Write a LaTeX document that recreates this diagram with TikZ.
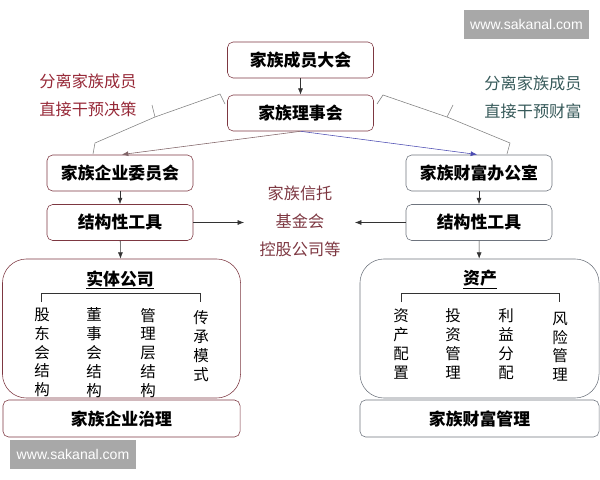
\documentclass[tikz,border=0pt]{standalone}
\usepackage{fontspec}
\usetikzlibrary{arrows.meta}
\newfontfamily\cjk{Noto Sans CJK SC}
\newfontfamily\lat{Liberation Sans}
\definecolor{rim}{RGB}{125,55,65}
\definecolor{grayrim}{RGB}{110,116,126}
\definecolor{redtxt}{RGB}{150,40,55}
\definecolor{tealtxt}{RGB}{55,90,90}
\definecolor{markgray}{RGB}{168,168,168}
\begin{document}
\begin{tikzpicture}[x=0.025cm,y=-0.025cm,
        box/.style={draw=rim,rounded corners=4pt,minimum width=3.65cm,minimum height=0.9cm,
            font=\cjk\bfseries\fontsize{12}{14}\selectfont},
        rbox/.style={box,draw=grayrim},
        bigbox/.style={draw=#1,rounded corners=0.6cm,minimum width=5.95cm,minimum height=3.475cm},
        col/.style={anchor=north,align=center,font=\cjk\fontsize{11}{13.4}\selectfont},
        note/.style={align=center,font=\cjk\fontsize{11}{14.5}\selectfont},
        arr/.style={-{Latex[length=4.5pt,width=3.5pt]},draw=black!80},
        sitemark/.style={fill=markgray,text=white,minimum width=3.13cm,minimum height=0.72cm,
            font=\lat\fontsize{10}{12}\selectfont}]
    \useasboundingbox (0,0) rectangle (600,480);
    \node[box] (gm) at (300.5,60) {家族成员大会};
    \node[box] (bd) at (300.5,113) {家族理事会};
    \node[box] (fec) at (120,173) {家族企业委员会};
    \node[rbox] (wo) at (479,173) {家族财富办公室};
    \node[box] (tl) at (120,222.5) {结构性工具};
    \node[rbox] (tr) at (479,222.5) {结构性工具};
    \node[bigbox=rim] (ent) at (121.5,328.5) {};
    \node[bigbox=grayrim,minimum width=5.975cm] (ast) at (479.5,328.5) {};
    \node[box,minimum width=5.925cm,minimum height=0.925cm] (gov) at (121.5,418.5) {家族企业治理};
    \node[rbox,minimum width=5.975cm,minimum height=0.925cm] (wm) at (479.5,418.5) {家族财富管理};
    \node[note,text=rim,font=\cjk\fontsize{11.5}{20}\selectfont] (trust) at (300,221) {家族信托\\基金会\\控股公司等};
    \node[note,text=redtxt,font=\cjk\fontsize{11.5}{20}\selectfont] (lnote) at (88,95) {分离家族成员\\直接干预决策};
    \node[note,text=tealtxt,font=\cjk\fontsize{11.5}{20}\selectfont] (rnote) at (533,97) {分离家族成员\\直接干预财富};
    \node[font=\cjk\bfseries\fontsize{12}{14}\selectfont] (entt) at (120,280) {\underline{实体公司}};
    \node[font=\cjk\bfseries\fontsize{12}{14}\selectfont] (astt) at (480,280) {\underline{资产}};
    \node[col] (c1) at (42,303) {股\\东\\会\\结\\构};
    \node[col] (c2) at (94,303) {董\\事\\会\\结\\构};
    \node[col] (c3) at (148,303) {管\\理\\层\\结\\构};
    \node[col] (c4) at (201,306) {传\\承\\模\\式};
    \node[col] (d1) at (401,304) {资\\产\\配\\置};
    \node[col] (d2) at (453,304) {投\\资\\管\\理};
    \node[col] (d3) at (506,304) {利\\益\\分\\配};
    \node[col] (d4) at (560,307) {风\\险\\管\\理};
    \node[sitemark] (mk1) at (526.5,24.5) {www.sakanal.com};
    \node[sitemark] (mk2) at (73,454.5) {www.sakanal.com};
    \coordinate (tlx) at (244,222.5);
    \coordinate (trx) at (355,222.5);
    \draw[arr] (gm) -- (bd);
    \draw[arr] (fec) -- (tl);
    \draw[arr] (wo) -- (tr);
    \draw[arr] (tl) -- (ent);
    \draw[arr] (tr) -- (ast);
    \draw[arr] (tl) -- (tlx);
    \draw[arr] (tr) -- (trx);
    \draw[-{Latex[length=4.5pt,width=3.5pt]},draw=gray!60!rim,thin] (bd.south) -- (122,154.5);
    \draw[-{Latex[length=4.5pt,width=3.5pt]},draw=gray!60!blue,thin] (bd.south) -- (477,154.5);
    \draw[gray] (93,154) -- (95,143) -- (155,117) -- (220,94) -- (225,104);
    \draw[gray] (155,117) -- (152,105);
    \draw[gray] (377,104) -- (383,95) -- (447,117) -- (510,143) -- (507,154);
    \draw[gray] (447,117) -- (453,105);
    \draw[black!80] (41,302) -- (41,293) -- (200,293) -- (200,302);
    \draw[black!80] (401,302) -- (401,293) -- (559,293) -- (559,302);
\end{tikzpicture}
\end{document}
